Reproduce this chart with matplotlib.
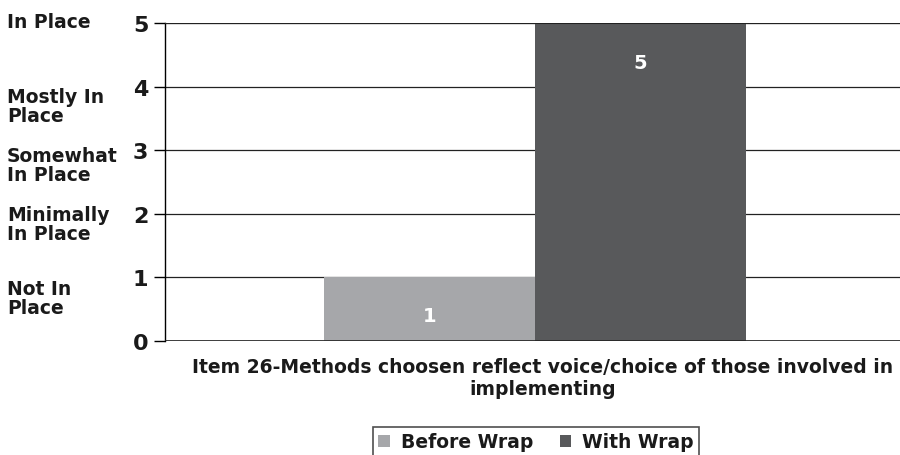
import matplotlib.pyplot as plt
import numpy as np

series = ["Before Wrap", "With Wrap"]
values = [1, 5]
colors = ["#a6a7aa", "#58595b"]
level_labels = ["Not In\nPlace", "Minimally\nIn Place", "Somewhat\nIn Place", "Mostly In\nPlace", "In Place"]
level_pos = [1, 2, 3, 4, 5]
xlabel = "Item 26-Methods choosen reflect voice/choice of those involved in\nimplementing"

plt.rcParams['font.family'] = ['DejaVu Sans']
plt.rcParams['font.weight'] = 'bold'

fig = plt.figure(figsize=(9, 4.56), dpi=100)
ax = fig.add_axes([165 / 900, 1 - 342 / 456, 735 / 900, 318 / 456])

w = 0.287
x0 = 0.503
for i, (s, v, c) in enumerate(zip(series, values, colors)):
    xpos = x0 + (i - 0.5) * w
    ax.bar(xpos, v, width=w, color=c, label=s, zorder=2)
    ax.text(xpos, v - 0.62 if v > 1 else v / 2 - 0.1, str(v), color="white",
            ha="center", va="center", fontsize=14, fontweight="bold", zorder=3)

ax.set_xlim(0, 1)
ax.set_ylim(0, 5)
ax.set_yticks(range(6))
ax.tick_params(axis="y", labelsize=16, length=8, width=1, pad=4, labelcolor="#1a1a1a")
ax.set_xticks([])
ax.yaxis.grid(True, color="#222222", linewidth=0.9, zorder=0)
for sp in ["top", "right", "bottom"]:
    ax.spines[sp].set_visible(False)
ax.spines["left"].set_linewidth(1)
ax.axhline(0, color="#222222", lw=1.2, zorder=3)
ax.axhline(5, color="#222222", lw=1.5, zorder=3)

# category labels on the far left
label_y = {1: 299, 2: 225, 3: 166, 4: 107, 5: 22}
for lab, p in zip(level_labels, level_pos):
    fig.text(7 / 900, 1 - label_y[p] / 456, lab, ha="left", va="center",
             fontsize=13.5, fontweight="bold", linespacing=0.98, color="#1a1a1a")

fig.text(543 / 900, 1 - 379 / 456, xlabel, ha="center", va="center",
         fontsize=13.5, fontweight="bold", linespacing=1.2, color="#1a1a1a")

leg = fig.legend(loc="center", bbox_to_anchor=(536 / 900, 1 - 443 / 456), ncol=2,
                 frameon=True, fancybox=False, edgecolor="#222222", fontsize=13.5,
                 handlelength=0.6, handleheight=0.6, handletextpad=0.6,
                 columnspacing=1.4, borderpad=0.3)
leg.get_frame().set_linewidth(1.2)
for t in leg.get_texts():
    t.set_color("#1a1a1a")

fig.savefig("out.png", dpi=100)
